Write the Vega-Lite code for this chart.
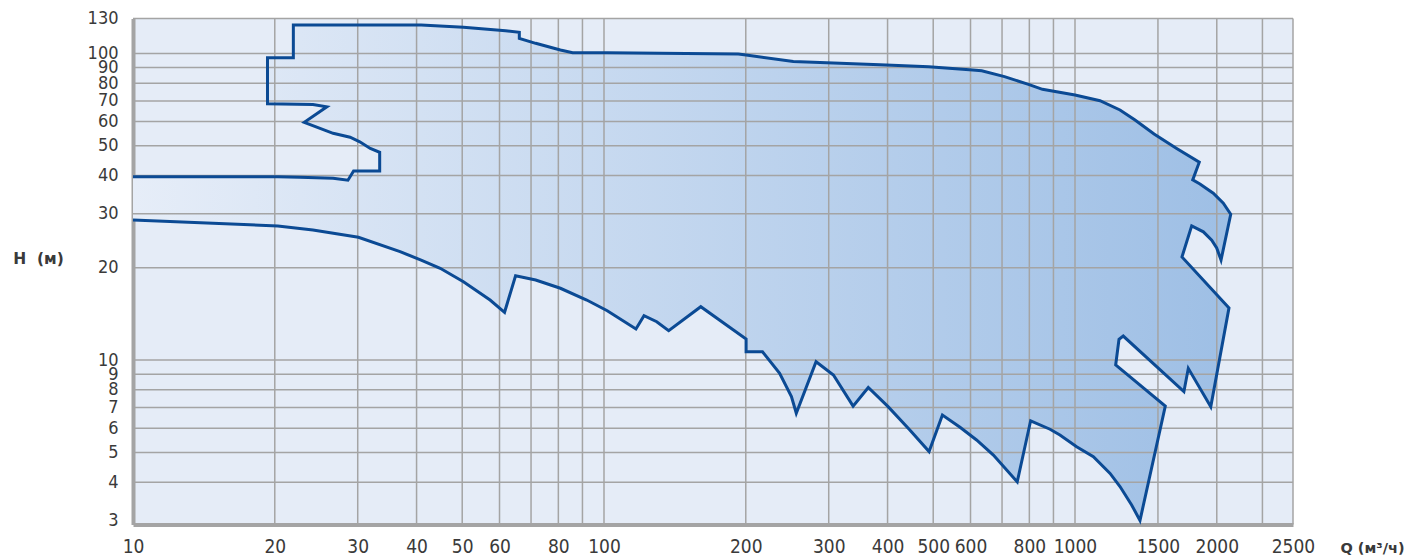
{
  "$schema": "https://vega.github.io/schema/vega-lite/v6.json",
  "width": 1160,
  "height": 506,
  "autosize": {"type": "none"},
  "padding": {"left": 133, "top": 18.5, "right": 128, "bottom": 33.5},
  "background": "white",
  "config": {
    "view": {"fill": "#e5ecf7", "stroke": null},
    "axis": {
      "titleAngle": 0, "titleAlign": "left", "titleBaseline": "alphabetic",
      "titleFont": "DejaVu Sans", "titleFontWeight": "bold", "titleColor": "#3a3a3a",
      "format": "d",
      "labelFont": "Liberation Sans Narrow, DejaVu Sans Condensed, sans-serif", "labelColor": "#3a3a3a",
      "labelFlush": false, "labelOverlap": false, "labelBound": false,
      "ticks": false, "grid": false, "domainColor": "#a4a4a4", "domainWidth": 4, "zindex": 1
    },
    "axisX": {"labelFontSize": 19, "titleFontSize": 14.5},
    "axisY": {"labelFontSize": 18, "titleFontSize": 15.5}
  },
  "datasets": {
    "outline": [
      {"i":1,"q":10,"h":39.6},{"i":2,"q":20.3,"h":39.6},{"i":3,"q":22.6,"h":39.5},{"i":4,"q":26.6,"h":39.2},{"i":5,"q":28.6,"h":38.6},
      {"i":6,"q":29.4,"h":41.4},{"i":7,"q":33.4,"h":41.4},{"i":8,"q":33.4,"h":47.6},{"i":9,"q":31.9,"h":49.0},{"i":10,"q":30.3,"h":51.5},
      {"i":11,"q":28.9,"h":53.3},{"i":12,"q":26.6,"h":54.9},{"i":13,"q":23.1,"h":59.6},{"i":14,"q":25.8,"h":67.0},{"i":15,"q":24.1,"h":68.2},
      {"i":16,"q":19.3,"h":68.5},{"i":17,"q":19.3,"h":96.8},{"i":18,"q":21.9,"h":96.8},{"i":19,"q":21.9,"h":123.8},{"i":20,"q":40.9,"h":123.8},
      {"i":21,"q":50.3,"h":121.7},{"i":22,"q":61.8,"h":118.6},{"i":23,"q":66.1,"h":117.2},{"i":24,"q":66.1,"h":112.0},{"i":25,"q":71.6,"h":107.9},
      {"i":26,"q":80.8,"h":102.6},{"i":27,"q":85.8,"h":100.5},{"i":28,"q":101.6,"h":100.5},{"i":29,"q":192.8,"h":99.5},{"i":30,"q":200.3,"h":98.8},
      {"i":31,"q":252.3,"h":94.2},{"i":32,"q":297.1,"h":93.3},{"i":33,"q":385.5,"h":91.9},{"i":34,"q":489.2,"h":90.5},{"i":35,"q":606.5,"h":88.3},
      {"i":36,"q":633.8,"h":87.8},{"i":37,"q":708.4,"h":84.0},{"i":38,"q":796.5,"h":79.3},{"i":39,"q":853,"h":76.4},{"i":40,"q":1000,"h":73.2},
      {"i":41,"q":1130,"h":70.1},{"i":42,"q":1246,"h":65.4},{"i":43,"q":1341,"h":60.7},{"i":44,"q":1472,"h":54.6},{"i":45,"q":1644,"h":49.0},
      {"i":46,"q":1836,"h":44.2},{"i":47,"q":1778,"h":38.7},{"i":48,"q":1842,"h":37.5},{"i":49,"q":1966,"h":35.0},{"i":50,"q":2065,"h":32.5},
      {"i":51,"q":2141,"h":29.9},{"i":52,"q":2042,"h":21.2},{"i":53,"q":1999,"h":23.2},{"i":54,"q":1951,"h":24.6},{"i":55,"q":1873,"h":26.2},
      {"i":56,"q":1769,"h":27.4},{"i":57,"q":1687,"h":21.7},{"i":58,"q":2123,"h":14.8},{"i":59,"q":1942,"h":7.05},{"i":60,"q":1740,"h":9.40},
      {"i":61,"q":1703,"h":7.89},{"i":62,"q":1266,"h":11.98},{"i":63,"q":1240,"h":11.69},{"i":64,"q":1220,"h":9.64},{"i":65,"q":1555,"h":7.08},
      {"i":66,"q":1374,"h":3.00},{"i":67,"q":1319,"h":3.37},{"i":68,"q":1246,"h":3.87},{"i":69,"q":1187,"h":4.27},{"i":70,"q":1094,"h":4.84},
      {"i":71,"q":1008,"h":5.22},{"i":72,"q":929,"h":5.70},{"i":73,"q":885,"h":5.95},{"i":74,"q":805,"h":6.34},{"i":75,"q":754,"h":4.01},
      {"i":76,"q":671,"h":4.90},{"i":77,"q":618,"h":5.49},{"i":78,"q":570,"h":6.04},{"i":79,"q":523,"h":6.62},{"i":80,"q":490,"h":5.03},
      {"i":81,"q":446,"h":5.92},{"i":82,"q":401,"h":7.05},{"i":83,"q":364,"h":8.14},{"i":84,"q":338,"h":7.08},{"i":85,"q":307,"h":8.94},
      {"i":86,"q":282,"h":9.88},{"i":87,"q":256,"h":6.71},{"i":88,"q":250,"h":7.60},{"i":89,"q":236,"h":9.06},{"i":90,"q":217,"h":10.65},
      {"i":91,"q":200.3,"h":10.65},{"i":92,"q":200.3,"h":11.72},{"i":93,"q":160.5,"h":14.93},{"i":94,"q":137.2,"h":12.47},{"i":95,"q":129.4,"h":13.34},
      {"i":96,"q":121.6,"h":13.96},{"i":97,"q":116.9,"h":12.63},{"i":98,"q":101.6,"h":14.49},{"i":99,"q":91.9,"h":15.70},{"i":100,"q":80.8,"h":17.15},
      {"i":101,"q":71.6,"h":18.25},{"i":102,"q":64.9,"h":18.84},{"i":103,"q":61.5,"h":14.32},{"i":104,"q":57.3,"h":15.70},{"i":105,"q":50.3,"h":18.0},
      {"i":106,"q":44.9,"h":19.92},{"i":107,"q":40.9,"h":21.2},{"i":108,"q":36.9,"h":22.57},{"i":109,"q":30.1,"h":25.14},{"i":110,"q":24.1,"h":26.56},
      {"i":111,"q":20.3,"h":27.37},{"i":112,"q":10,"h":28.63}
    ],
    "xgrid": [
      {"q":20},{"q":30},{"q":40},{"q":50},{"q":60},{"q":70},{"q":80},{"q":90},{"q":100},{"q":200},{"q":300},{"q":400},{"q":500},
      {"q":600},{"q":700},{"q":800},{"q":900},{"q":1000},{"q":1500},{"q":2000},{"q":2500},{"q":2903}
    ],
    "ygrid": [
      {"h":4},{"h":5},{"h":6},{"h":7},{"h":8},{"h":9},{"h":10},{"h":20},{"h":30},{"h":40},{"h":50},{"h":60},{"h":70},{"h":80},{"h":90},{"h":100},{"h":130}
    ]
  },
  "layer": [
    {
      "data": {"name": "outline"},
      "mark": {
        "type": "line",
        "strokeWidth": 0,
        "strokeOpacity": 0,
        "fill": {
          "gradient": "linear", "x1": 0, "y1": 0, "x2": 1, "y2": 0,
          "stops": [{"offset": 0, "color": "#e6edf8"}, {"offset": 1, "color": "#9ebfe5"}]
        }
      },
      "encoding": {
        "x": {
          "field": "q", "type": "quantitative",
          "scale": {"type": "log", "domain": [10, 2903], "nice": false},
          "axis": {
            "title": "Q (м³/ч)", "titleX": 1207, "titleY": 27.5,
            "values": [10,20,30,40,50,60,70,80,90,100,200,300,400,500,600,700,800,900,1000,1500,2000,2500,2903],
            "labelExpr": "indexof([70,90,700,900,2500], datum.value) >= 0 ? '' : (datum.value == 2903 ? '2500' : datum.label)",
            "labelPadding": 13
          }
        },
        "y": {
          "field": "h", "type": "quantitative",
          "scale": {"type": "log", "domain": [2.91, 130], "nice": false},
          "axis": {
            "title": "H\u00a0\u00a0(м)", "titleX": -120.3, "titleY": 244.8,
            "values": [3,4,5,6,7,8,9,10,20,30,40,50,60,70,80,90,100,130],
            "labelPadding": 15
          }
        },
        "order": {"field": "i", "type": "quantitative"}
      }
    },
    {
      "data": {"name": "xgrid"},
      "mark": {"type": "rule", "color": "#a4a4a4", "strokeWidth": 1.5},
      "encoding": {
        "x": {
          "field": "q", "type": "quantitative",
          "scale": {"type": "log", "domain": [10, 2903], "nice": false},
          "axis": {
            "title": "Q (м³/ч)", "titleX": 1207, "titleY": 27.5,
            "values": [10,20,30,40,50,60,70,80,90,100,200,300,400,500,600,700,800,900,1000,1500,2000,2500,2903],
            "labelExpr": "indexof([70,90,700,900,2500], datum.value) >= 0 ? '' : (datum.value == 2903 ? '2500' : datum.label)",
            "labelPadding": 13
          }
        }
      }
    },
    {
      "data": {"name": "ygrid"},
      "mark": {"type": "rule", "color": "#a4a4a4", "strokeWidth": 1.5},
      "encoding": {
        "y": {
          "field": "h", "type": "quantitative",
          "scale": {"type": "log", "domain": [2.91, 130], "nice": false},
          "axis": {
            "title": "H\u00a0\u00a0(м)", "titleX": -120.3, "titleY": 244.8,
            "values": [3,4,5,6,7,8,9,10,20,30,40,50,60,70,80,90,100,130],
            "labelPadding": 15
          }
        }
      }
    },
    {
      "data": {"name": "outline"},
      "mark": {"type": "line", "color": "#0b4a94", "strokeWidth": 3, "strokeJoin": "miter"},
      "encoding": {
        "x": {
          "field": "q", "type": "quantitative",
          "scale": {"type": "log", "domain": [10, 2903], "nice": false},
          "axis": {
            "title": "Q (м³/ч)", "titleX": 1207, "titleY": 27.5,
            "values": [10,20,30,40,50,60,70,80,90,100,200,300,400,500,600,700,800,900,1000,1500,2000,2500,2903],
            "labelExpr": "indexof([70,90,700,900,2500], datum.value) >= 0 ? '' : (datum.value == 2903 ? '2500' : datum.label)",
            "labelPadding": 13
          }
        },
        "y": {
          "field": "h", "type": "quantitative",
          "scale": {"type": "log", "domain": [2.91, 130], "nice": false},
          "axis": {
            "title": "H\u00a0\u00a0(м)", "titleX": -120.3, "titleY": 244.8,
            "values": [3,4,5,6,7,8,9,10,20,30,40,50,60,70,80,90,100,130],
            "labelPadding": 15
          }
        },
        "order": {"field": "i", "type": "quantitative"}
      }
    }
  ]
}
